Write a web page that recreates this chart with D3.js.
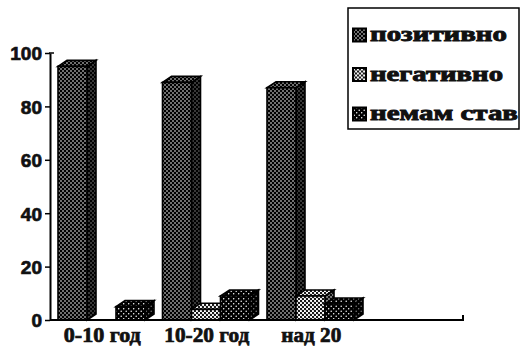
<!DOCTYPE html>
<html>
<head>
<meta charset="utf-8">
<script src="https://cdn.jsdelivr.net/npm/d3@7"></script>
<style>
  html, body { margin: 0; padding: 0; background: #fff; }
  svg { display: block; }
  .ytick { font-family: "Liberation Sans", Arial, sans-serif; font-weight: 700; font-size: 19px; }
  .serif { font-family: "Liberation Serif", "Times New Roman", serif; font-weight: 700; }
</style>
</head>
<body>
<svg id="chart" width="521" height="349"></svg>
<script>
// Attitude by years of service (percent)
const groups = ["0-10 год", "10-20 год", "над 20"];
const seriesNames = ["позитивно", "негативно", "немам став"];
const positive = [95, 89, 87];
const negative = [0, 4, 9];
const noOpinion = [5, 9, 6];
const yTicks = [0, 20, 40, 60, 80, 100];

const seriesValues = [positive, negative, noOpinion];

const svg = d3.select("#chart");
const defs = svg.append("defs");

// Dotted fills for each series
function dotPattern(id, size, bg, dot, r, pts) {
  const p = defs.append("pattern")
    .attr("id", id).attr("patternUnits", "userSpaceOnUse")
    .attr("width", size).attr("height", size);
  p.append("rect").attr("width", size).attr("height", size).attr("fill", bg);
  pts.forEach(([cx, cy]) => p.append("circle").attr("cx", cx).attr("cy", cy).attr("r", r).attr("fill", dot));
}
dotPattern("pat0", 4, "#000", "#fff", 0.8, [[1, 1], [3, 3]]);
dotPattern("pat1", 4, "#fff", "#111", 1.2, [[1, 1], [3, 3]]);
dotPattern("pat2", 5, "#000", "#fff", 0.75, [[1.2, 1.2], [3.7, 3.7]]);

const margin = { left: 50, bottom: 320, top: 53 };
const y = d3.scaleLinear().domain([0, 100]).range([margin.bottom, margin.top]);
const x0 = d3.scaleBand().domain(groups).range([margin.left, margin.left + 3 * 104.5]);
const x1 = d3.scaleBand().domain(seriesNames).range([8, 95]);
const bw = x1.bandwidth();
const dx = 9, dy = 6;

// Bars (3D: front, side, top)
const barData = [];
groups.forEach((g, gi) => {
  seriesNames.forEach((s, si) => {
    barData.push({ g, s, si, v: seriesValues[si][gi] });
  });
});

const bars = svg.append("g").selectAll("g.bar")
  .data(barData.filter(d => d.v > 0))
  .join("g").attr("class", "bar");

bars.each(function (d) {
  const gEl = d3.select(this);
  const xl = x0(d.g) + x1(d.s);
  const xr = xl + bw;
  const yt = y(d.v);
  const yb = y(0);
  const fill = `url(#pat${d.si})`;
  const side = `M${xr},${yb}L${xr + dx},${yb - dy}L${xr + dx},${yt - dy}L${xr},${yt}Z`;
  gEl.append("path").attr("d", side).attr("fill", fill);
  gEl.append("path").attr("d", side)
    .attr("fill", "#000").attr("fill-opacity", 0.5)
    .attr("stroke", "#000").attr("stroke-width", 1.6);
  // top face
  gEl.append("path")
    .attr("d", `M${xl},${yt}L${xl + dx},${yt - dy}L${xr + dx},${yt - dy}L${xr},${yt}Z`)
    .attr("fill", fill).attr("stroke", "#000").attr("stroke-width", 1.6);
  // front face
  gEl.append("rect")
    .attr("x", xl).attr("y", yt).attr("width", bw).attr("height", yb - yt)
    .attr("fill", fill).attr("stroke", "#000").attr("stroke-width", 1.6);
});

// Y axis
const yAxis = d3.axisLeft(y).tickValues(yTicks).tickSizeInner(5).tickSizeOuter(0).tickPadding(3);
const ya = svg.append("g").attr("transform", `translate(${margin.left},0)`).call(yAxis);
ya.attr("font-family", null).attr("font-size", null);
ya.select(".domain").attr("stroke", "#000").attr("stroke-width", 2);
ya.selectAll(".tick line").attr("stroke", "#000").attr("stroke-width", 1.5);
ya.selectAll(".tick text")
  .attr("class", "ytick")
  .attr("fill", "#111")
  .attr("stroke", "#111").attr("stroke-width", 0.7)
  .attr("dy", "0.36em");
svg.append("line")
  .attr("x1", margin.left - 1).attr("x2", margin.left + 4)
  .attr("y1", y(100)).attr("y2", y(100))
  .attr("stroke", "#000").attr("stroke-width", 1.5);

// X axis baseline
const xEnd = 463;
svg.append("path")
  .attr("d", `M${margin.left},${y(0)}H${xEnd}V${y(0) - 5}`)
  .attr("fill", "none").attr("stroke", "#000").attr("stroke-width", 2);

// Category labels
const xLabelWidths = [77, 85, 60];
svg.append("g").selectAll("text")
  .data(groups)
  .join("text")
  .attr("class", "serif")
  .attr("x", (d, i) => x0(d) + x0.bandwidth() / 2 - xLabelWidths[i] / 2)
  .attr("y", 342)
  .attr("textLength", (d, i) => xLabelWidths[i])
  .attr("lengthAdjust", "spacingAndGlyphs")
  .style("font-size", "20px")
  .attr("fill", "#111").attr("stroke", "#111").attr("stroke-width", 0.7)
  .text(d => d);

// Legend
const legend = svg.append("g");
legend.append("rect")
  .attr("x", 348).attr("y", 8).attr("width", 171).attr("height", 121)
  .attr("fill", "#fff").attr("stroke", "#000").attr("stroke-width", 1.5);
const legendWidths = [137, 133, 148];
const rows = legend.selectAll("g.row").data(seriesNames).join("g")
  .attr("class", "row")
  .attr("transform", (d, i) => `translate(353,${35 + i * 39.5})`);
rows.append("rect")
  .attr("x", 0).attr("y", -6.5).attr("width", 13).attr("height", 13)
  .attr("fill", (d, i) => `url(#pat${i})`).attr("stroke", "#000").attr("stroke-width", 2);
rows.append("text")
  .attr("class", "serif")
  .attr("x", 17).attr("y", 6)
  .attr("textLength", (d, i) => legendWidths[i])
  .attr("lengthAdjust", "spacingAndGlyphs")
  .style("font-size", "21px")
  .attr("fill", "#111").attr("stroke", "#111").attr("stroke-width", 0.9)
  .text(d => d);
</script>
</body>
</html>
